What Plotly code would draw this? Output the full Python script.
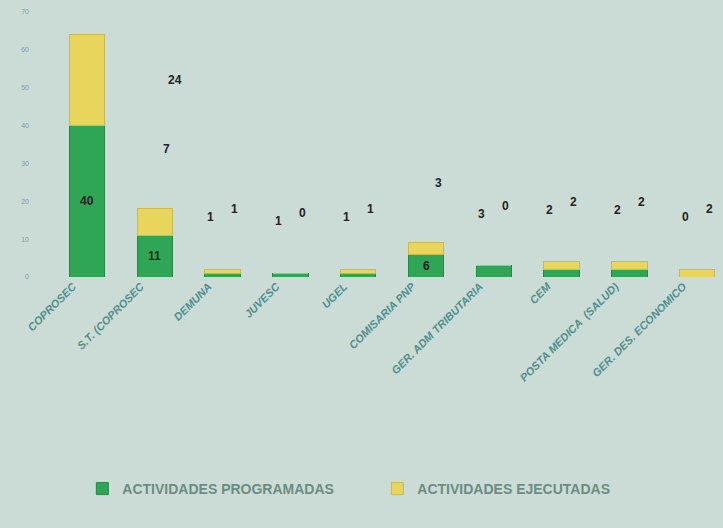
import plotly.graph_objects as go

categories = ["COPROSEC", "S.T. (COPROSEC", "DEMUNA", "JUVESC", "UGEL", "COMISARIA PNP",
              "GER. ADM TRIBUTARIA", "CEM", "POSTA MEDICA  (SALUD)", "GER. DES. ECONOMICO"]
programadas = [40, 11, 1, 1, 1, 6, 3, 2, 2, 0]
ejecutadas = [24, 7, 1, 0, 1, 3, 0, 2, 2, 2]
y_ticks = [0, 10, 20, 30, 40, 50, 60, 70]

GREEN = "#2fa656"
YELLOW = "#e8d55c"
BG = "#cbdcd6"

fig = go.Figure()
fig.add_trace(go.Bar(x=categories, y=programadas, name="ACTIVIDADES PROGRAMADAS",
                     marker=dict(color=GREEN, line=dict(color="#268845", width=1))))
fig.add_trace(go.Bar(x=categories, y=ejecutadas, name="ACTIVIDADES EJECUTADAS",
                     marker=dict(color=YELLOW, line=dict(color="#cdb94a", width=1))))

annotations = []
lab_font = dict(family="Liberation Sans", size=12, color="#222222")
for c, p, e in zip(categories, programadas, ejecutadas):
    total = p + e
    if p >= 5:
        annotations.append(dict(x=c, y=p / 2, text=f"<b>{p}</b>", showarrow=False, font=lab_font))
    else:
        annotations.append(dict(x=c, y=total, text=f"<b>{p}</b>", showarrow=False, font=lab_font,
                                xshift=-12, yshift=52))
    if e >= 10:
        annotations.append(dict(x=c, y=p + e / 2, text=f"<b>{e}</b>", showarrow=False, font=lab_font,
                                xshift=88))
    else:
        annotations.append(dict(x=c, y=total, text=f"<b>{e}</b>", showarrow=False, font=lab_font,
                                xshift=12, yshift=60))

fig.update_layout(
    barmode="stack",
    bargap=0.48,
    width=723, height=528,
    margin=dict(l=40, r=0, t=12, b=251),
    paper_bgcolor=BG, plot_bgcolor=BG,
    showlegend=True,
    legend=dict(orientation="h", traceorder="normal", x=0.062, xanchor="left", y=-0.80, yanchor="middle",
                font=dict(family="Liberation Sans", size=14, color="#6b8c82", weight="bold"),
                itemwidth=30, bgcolor="rgba(0,0,0,0)", entrywidth=250, entrywidthmode="pixels"),
    annotations=annotations,
    xaxis=dict(range=[-0.693, 9.38], tickangle=-45, showgrid=False, showline=False,
               ticklabelshift=-14,
               tickfont=dict(family="Liberation Sans", size=11, color="#4f8f8c",
                             weight="bold", style="italic")),
    yaxis=dict(range=[0, 70], tickvals=y_ticks, showgrid=False, zeroline=False, showline=False,
               ticklabelstandoff=10,
               tickfont=dict(family="Liberation Sans", size=7, color="#8a9a96")),
)

fig.write_html("out.html", config={"displayModeBar": False},
               post_script="document.body.style.margin='0';")
